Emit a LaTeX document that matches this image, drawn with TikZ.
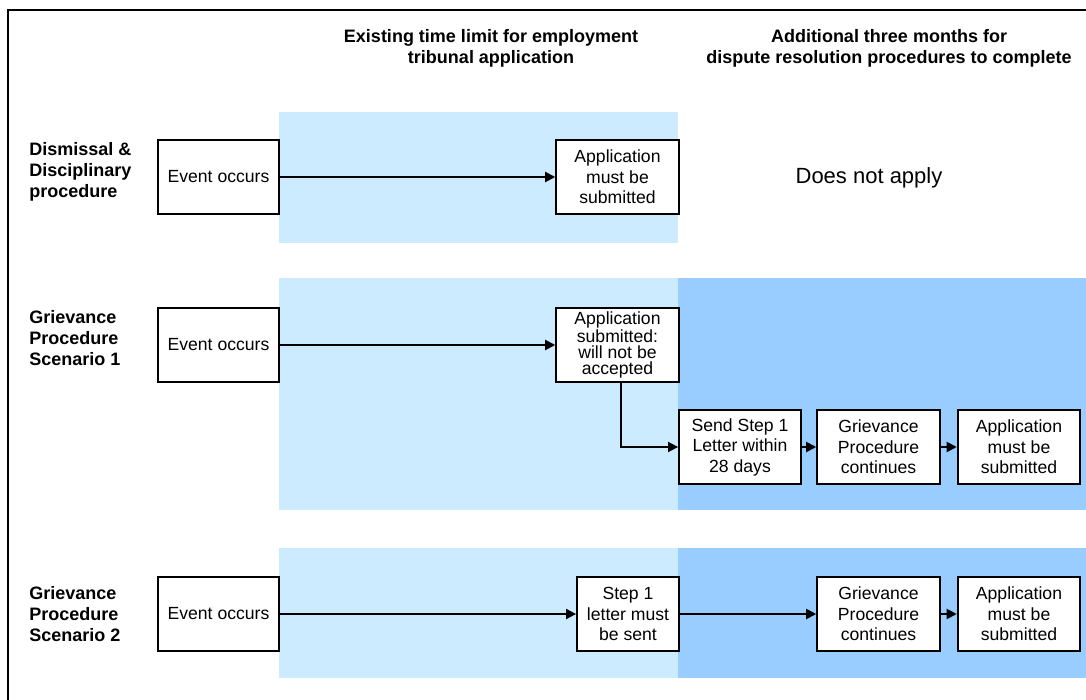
\documentclass[tikz,border=0pt]{standalone}
\usepackage{fontspec}
\setmainfont{Liberation Sans}
\usetikzlibrary{arrows.meta,calc}
\definecolor{lightband}{HTML}{CCEBFF}
\definecolor{darkband}{HTML}{99CCFF}
\begin{document}
\begin{tikzpicture}[x=0.75pt,y=-0.75pt,
  boxtext/.style={font=\fontsize{13.2}{15.4}\selectfont},
  procbox/.style={draw=black,line width=1.4pt,fill=white,align=center,inner sep=0pt,
    minimum height=55.5pt,boxtext},
  wev/.style={minimum width=90.75pt},
  wapp/.style={minimum width=92pt},
  wstep/.style={minimum width=76.5pt},
  rowlabel/.style={anchor=west,align=left,inner sep=0pt,font=\fontsize{13.5}{16}\selectfont\bfseries},
  header/.style={align=center,inner sep=0pt,font=\fontsize{13.5}{15.75}\selectfont\bfseries},
  flow/.style={line width=1.4pt,-{Triangle[length=7.5pt,width=7.5pt]}}
]
\useasboundingbox (0,0) rectangle (1086,700);
\fill[white] (0,0) rectangle (1086,700);
% frame
\draw[line width=1.3pt] (8,712) -- (8,10) -- (1096,10);

% bands
\fill[lightband] (279,112) rectangle (678,243);
\fill[lightband] (279,278) rectangle (678,510);
\fill[darkband] (678,278) rectangle (1086,510);
\fill[lightband] (279,548) rectangle (678,678);
\fill[darkband] (678,548) rectangle (1086,678);

% headers
\node[header] (h1) at (491,48.5) {Existing time limit for employment\\tribunal application};
\node[header] (h2) at (889,48.5) {Additional three months for\\dispute resolution procedures to complete};

% row labels
\node[rowlabel] (l1) at (29,172) {Dismissal \&\\Disciplinary\\procedure};
\node[rowlabel] (l2) at (29,338) {Grievance\\Procedure\\Scenario 1};
\node[rowlabel] (l3) at (29,614) {Grievance\\Procedure\\Scenario 2};

% row 1
\node[procbox,wev] (ev1) at (218.5,177) {Event occurs};
\node[procbox,wapp] (app1) at (617.5,177) {Application\\must be\\submitted};
\node[inner sep=0pt,font=\fontsize{16.5}{19}\selectfont] (na) at (869,178) {Does not apply};
\draw[flow] (ev1) -- (app1);

% row 2
\node[procbox,wev] (ev2) at (218.5,345) {Event occurs};
\node[procbox,wapp,font=\fontsize{13.2}{12}\selectfont] (sub2) at (617.5,345) {Application\\submitted:\\will not be\\accepted};
\node[procbox,minimum width=91.5pt] (send2) at (740,447) {Send Step 1\\Letter within\\28 days};
\node[procbox,wapp] (gp2) at (878.5,447) {Grievance\\Procedure\\continues};
\node[procbox,wapp] (app2) at (1019,447) {Application\\must be\\submitted};
\draw[flow] (ev2) -- (sub2);
\draw[flow] ($(sub2.south)+(3.5,0)$) |- (send2.west);
\draw[flow] (send2) -- (gp2);
\draw[flow] (gp2) -- (app2);

% row 3
\node[procbox,wev] (ev3) at (218.5,614) {Event occurs};
\node[procbox,wstep] (st3) at (628,614) {Step 1\\letter must\\be sent};
\node[procbox,wapp] (gp3) at (878.5,614) {Grievance\\Procedure\\continues};
\node[procbox,wapp] (app3) at (1019,614) {Application\\must be\\submitted};
\draw[flow] (ev3) -- (st3);
\draw[flow] (st3) -- (gp3);
\draw[flow] (gp3) -- (app3);
\end{tikzpicture}
\end{document}
